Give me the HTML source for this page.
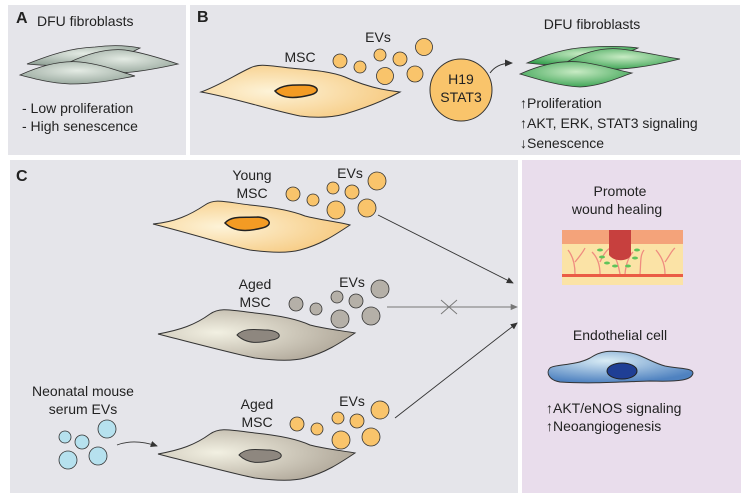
<!DOCTYPE html>
<html><head><meta charset="utf-8"><style>
body{margin:0;background:#fff}
svg{display:block;font-family:"Liberation Sans",Arial,sans-serif}
</style></head><body>
<svg width="747" height="499" viewBox="0 0 747 499">
<defs>
<radialGradient id="msc" cx="0.35" cy="0.5" r="0.7"><stop offset="0" stop-color="#fdf3d8"/><stop offset="1" stop-color="#f6c77a"/></radialGradient>
<radialGradient id="aged" cx="0.3" cy="0.45" r="0.75"><stop offset="0" stop-color="#f2f0e2"/><stop offset="1" stop-color="#aca395"/></radialGradient>
<radialGradient id="gray" cx="0.5" cy="0.4" r="0.7"><stop offset="0" stop-color="#e4ebe4"/><stop offset="1" stop-color="#8fa095"/></radialGradient>
<radialGradient id="green" cx="0.5" cy="0.4" r="0.7"><stop offset="0" stop-color="#c8ebc4"/><stop offset="1" stop-color="#2a9a45"/></radialGradient>
<radialGradient id="endo" cx="0.4" cy="0.3" r="0.7"><stop offset="0" stop-color="#d9ecf5"/><stop offset="1" stop-color="#4f82c0"/></radialGradient>
<marker id="ah" markerWidth="8" markerHeight="8" refX="7" refY="4" orient="auto"><path d="M0,0.5 L8,4 L0,7.5 Z" fill="#333"/></marker>
<marker id="ahg" markerWidth="8" markerHeight="8" refX="7" refY="4" orient="auto"><path d="M0,0.5 L8,4 L0,7.5 Z" fill="#777"/></marker>
</defs>
<rect width="747" height="499" fill="#fff"/>
<rect x="8" y="5" width="178" height="150" fill="#e5e5ea"/>
<rect x="190" y="5" width="550" height="150" fill="#e5e5ea"/>
<rect x="10" y="160" width="508" height="333" fill="#e5e5ea"/>
<rect x="522" y="160" width="219" height="333" fill="#e9ddec"/>

<!-- Panel A -->
<text x="16" y="23" font-weight="bold" font-size="16" fill="#222">A</text>
<text x="37" y="26" font-size="14" fill="#222">DFU fibroblasts</text>
<g stroke="#333" stroke-width="0.8" fill="url(#gray)">
<path d="M27,64 C50,55 70,48 95,47 C110,45 125,45 140,48 C125,56 110,62 90,64 C70,66 45,66 27,64Z"/>
<path d="M70,62 C85,55 105,48 125,50 C140,52 160,58 178,64 C160,68 140,72 120,73 C100,74 85,70 70,62Z"/>
<path d="M20,75 C40,66 60,60 80,62 C100,64 115,70 135,76 C115,80 95,84 70,84 C50,83 35,79 20,75Z"/>
</g>
<text x="22" y="113" font-size="14" fill="#222">- Low proliferation</text>
<text x="22" y="131" font-size="14" fill="#222">- High senescence</text>

<!-- Panel B -->
<text x="197" y="22" font-weight="bold" font-size="16" fill="#222">B</text>
<path d="M201,92 C220,85 235,75 250,68 C260,63 270,66 290,68 C310,70 330,71 345,77 C360,84 380,90 400,92 C385,100 365,108 345,114 C330,118 315,118 300,116 C270,110 235,98 201,92Z" fill="url(#msc)" stroke="#333" stroke-width="1"/>
<path d="M275,91 C283,84 295,85 305,85 C318,85 322,92 310,95 C298,98 283,100 275,91Z" fill="#f39b24" stroke="#222" stroke-width="1.5"/>
<text x="300" y="62" font-size="14" fill="#222" text-anchor="middle">MSC</text>
<text x="378" y="42" font-size="14" fill="#222" text-anchor="middle">EVs</text>
<g fill="#f9c46b" stroke="#333" stroke-width="0.8">
<circle cx="340" cy="61" r="7"/><circle cx="360" cy="67" r="6"/><circle cx="380" cy="55" r="6"/><circle cx="400" cy="59" r="7"/><circle cx="424" cy="47" r="8.5"/><circle cx="385" cy="76" r="8.5"/><circle cx="415" cy="74" r="8"/>
</g>
<circle cx="461" cy="90" r="31" fill="#f9c46b" stroke="#333" stroke-width="1"/>
<text x="461" y="84" font-size="14" fill="#222" text-anchor="middle">H19</text>
<text x="461" y="102" font-size="14" fill="#222" text-anchor="middle">STAT3</text>
<path d="M490,73 C495,66 502,63 512,63" fill="none" stroke="#333" stroke-width="1" marker-end="url(#ah)"/>
<text x="592" y="29" font-size="14" fill="#222" text-anchor="middle">DFU fibroblasts</text>
<g stroke="#333" stroke-width="0.8" fill="url(#green)">
<path d="M527,63 C545,55 565,48 590,47 C610,46 625,46 638,48 C620,56 600,62 580,64 C560,66 545,65 527,63Z"/>
<path d="M567,62 C580,54 600,47 620,49 C640,51 660,56 680,59 C660,64 640,68 620,69 C600,70 585,68 567,62Z"/>
<path d="M520,74 C540,65 560,60 580,62 C600,64 615,70 632,73 C615,79 600,86 580,87 C560,86 540,80 520,74Z"/>
</g>
<g font-size="14" fill="#222">
<text x="520" y="108">↑Proliferation</text>
<text x="520" y="128">↑AKT, ERK, STAT3 signaling</text>
<text x="520" y="148">↓Senescence</text>
</g>

<!-- Panel C -->
<text x="16" y="181" font-weight="bold" font-size="16" fill="#222">C</text>
<path d="M153,224 C175,222 190,215 205,205 C215,198 225,202 250,205 C270,207 290,210 305,216 C320,220 340,222 350,225 C335,235 320,245 300,250 C285,254 265,252 250,250 C230,246 200,236 153,224Z" fill="url(#msc)" stroke="#333" stroke-width="1"/>
<path d="M225,223 C232,215 245,218 258,217 C270,218 274,225 262,228 C250,231 235,233 225,223Z" fill="#f39b24" stroke="#222" stroke-width="1.5"/>
<text x="252" y="180" font-size="14" fill="#222" text-anchor="middle">Young</text>
<text x="252" y="198" font-size="14" fill="#222" text-anchor="middle">MSC</text>
<text x="350" y="178" font-size="14" fill="#222" text-anchor="middle">EVs</text>
<g fill="#f9c46b" stroke="#333" stroke-width="0.8">
<circle cx="293" cy="194" r="7"/><circle cx="313" cy="200" r="6"/><circle cx="333" cy="188" r="6"/><circle cx="352" cy="192" r="7"/><circle cx="377" cy="181" r="9"/><circle cx="336" cy="210" r="9"/><circle cx="367" cy="208" r="9"/>
</g>
<line x1="378" y1="215" x2="513" y2="283" stroke="#333" stroke-width="0.9" marker-end="url(#ah)"/>
<path d="M158,334 C180,330 195,325 210,314 C220,307 230,310 255,313 C275,315 295,318 310,325 C325,329 345,331 355,333 C340,343 325,353 305,358 C290,362 270,360 255,358 C235,354 205,346 158,334Z" fill="url(#aged)" stroke="#333" stroke-width="1"/>
<path d="M237,335 C244,327 257,330 268,330 C280,331 284,338 272,340 C260,343 247,345 237,335Z" fill="#8e877f" stroke="#333" stroke-width="1"/>
<text x="255" y="289" font-size="14" fill="#222" text-anchor="middle">Aged</text>
<text x="255" y="307" font-size="14" fill="#222" text-anchor="middle">MSC</text>
<text x="352" y="287" font-size="14" fill="#222" text-anchor="middle">EVs</text>
<g fill="#b5b0a8" stroke="#333" stroke-width="0.8">
<circle cx="296" cy="304" r="7"/><circle cx="316" cy="309" r="6"/><circle cx="337" cy="297" r="6"/><circle cx="356" cy="301" r="7"/><circle cx="380" cy="289" r="9"/><circle cx="340" cy="319" r="9"/><circle cx="371" cy="316" r="9"/>
</g>
<line x1="387" y1="307" x2="517" y2="307" stroke="#777" stroke-width="0.9" marker-end="url(#ahg)"/>
<path d="M441,300 L457,314 M457,300 L441,314" stroke="#777" stroke-width="0.9"/>
<path d="M158,454 C180,450 195,445 210,434 C220,427 230,430 255,433 C275,435 295,438 310,445 C325,449 345,451 355,453 C340,463 325,473 305,478 C290,482 270,480 255,478 C235,474 205,466 158,454Z" fill="url(#aged)" stroke="#333" stroke-width="1"/>
<path d="M239,455 C246,447 259,450 270,450 C282,451 286,458 274,460 C262,463 249,465 239,455Z" fill="#8e877f" stroke="#333" stroke-width="1"/>
<text x="257" y="409" font-size="14" fill="#222" text-anchor="middle">Aged</text>
<text x="257" y="427" font-size="14" fill="#222" text-anchor="middle">MSC</text>
<text x="352" y="406" font-size="14" fill="#222" text-anchor="middle">EVs</text>
<g fill="#f9c46b" stroke="#333" stroke-width="0.8">
<circle cx="297" cy="424" r="7"/><circle cx="317" cy="429" r="6"/><circle cx="338" cy="418" r="6"/><circle cx="357" cy="421" r="7"/><circle cx="380" cy="410" r="9"/><circle cx="341" cy="440" r="9"/><circle cx="371" cy="437" r="9"/>
</g>
<line x1="395" y1="418" x2="517" y2="323" stroke="#333" stroke-width="0.9" marker-end="url(#ah)"/>
<text x="83" y="396" font-size="14" fill="#222" text-anchor="middle">Neonatal mouse</text>
<text x="83" y="414" font-size="14" fill="#222" text-anchor="middle">serum EVs</text>
<g fill="#b6e1ee" stroke="#333" stroke-width="0.8">
<circle cx="107" cy="429" r="9"/><circle cx="65" cy="437" r="6"/><circle cx="82" cy="442" r="7"/><circle cx="68" cy="460" r="9"/><circle cx="98" cy="456" r="9"/>
</g>
<path d="M117,445 C130,440 145,442 157,446" fill="none" stroke="#333" stroke-width="0.9" marker-end="url(#ah)"/>

<!-- Right panel -->
<text x="620" y="196" font-size="14" fill="#222" text-anchor="middle">Promote</text>
<text x="617" y="214" font-size="14" fill="#222" text-anchor="middle">wound healing</text>
<rect x="562" y="230" width="121" height="55" fill="#fbe3a6"/>
<rect x="562" y="230" width="121" height="14" fill="#f4a37a"/>
<rect x="562" y="274" width="121" height="3" fill="#ea5c45"/>
<g stroke="#ef8c80" stroke-width="1.3" fill="none">
<path d="M575,274 C575,262 572,255 568,250 M575,262 C580,256 583,252 585,248"/>
<path d="M600,274 C600,263 596,256 592,252 M600,262 C603,255 607,250 610,248"/>
<path d="M620,274 C618,262 615,256 612,252 M625,274 C626,262 630,255 633,252"/>
<path d="M640,274 C641,262 640,255 644,250"/>
<path d="M665,274 C665,262 660,255 656,250 M665,262 C670,255 672,250 675,248"/>
</g>
<path d="M609,230 L631,230 L631,255 C628,262 614,262 609,255Z" fill="#c7403e"/>
<g fill="#5fc45a"><ellipse cx="602" cy="257" rx="3" ry="1.5"/><ellipse cx="607" cy="263" rx="3" ry="1.5"/><ellipse cx="615" cy="266" rx="3" ry="1.5"/><ellipse cx="635" cy="258" rx="3" ry="1.5"/><ellipse cx="628" cy="266" rx="3" ry="1.5"/><ellipse cx="637" cy="250" rx="3" ry="1.5"/><ellipse cx="600" cy="250" rx="3" ry="1.5"/></g>
<text x="620" y="340" font-size="14" fill="#222" text-anchor="middle">Endothelial cell</text>
<path d="M550,368 C555,364 575,366 590,358 C605,348 615,352 625,352 C640,353 650,362 665,366 C680,369 693,368 693,373 C692,380 680,382 650,381 C620,382 590,384 560,382 C548,380 546,372 550,368Z" fill="url(#endo)" stroke="#333" stroke-width="1"/>
<ellipse cx="622" cy="371" rx="15" ry="8" fill="#1f3f95" stroke="#222" stroke-width="1"/>
<text x="546" y="413" font-size="14" fill="#222">↑AKT/eNOS signaling</text>
<text x="546" y="431" font-size="14" fill="#222">↑Neoangiogenesis</text>
</svg>
</body></html>
